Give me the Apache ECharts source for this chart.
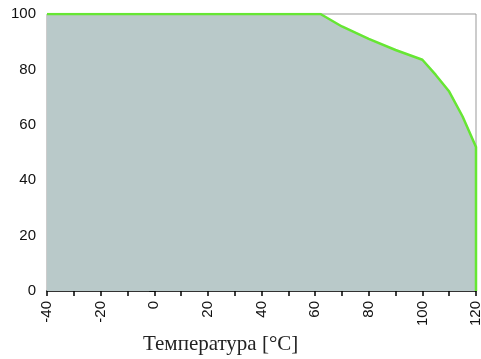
<!DOCTYPE html>
<html>
<head>
<meta charset="utf-8">
<script src="https://cdn.jsdelivr.net/npm/echarts@6/dist/echarts.min.js"></script>
<style>
html, body { margin: 0; padding: 0; background: #fff; }
#chart { width: 481px; height: 359px; }
</style>
</head>
<body>
<div id="chart"></div>
<script>
// температура, °C
var temps = [-40, 60, 62, 70, 80, 90, 100, 105, 110, 115, 120, 120];
// допустимая нагрузка, %
var load = [100, 100, 100, 95.5, 91, 87, 83.5, 78, 72, 63, 52, 0];
var yTicks = [0, 20, 40, 60, 80, 100];

var points = [];
for (var i = 0; i < temps.length; i++) {
    points.push([temps[i], load[i]]);
}

var myChart = echarts.init(document.getElementById('chart'));
var option = {
    animation: false,
    title: {
        text: 'Температура [°C]',
        left: 143,
        top: 334,
        padding: 0,
        textStyle: {
            fontFamily: 'Liberation Serif',
            fontWeight: 'normal',
            fontSize: 21,
            color: '#222'
        }
    },
    grid: {
        left: 47, right: 5, top: 14, bottom: 68,
        outerBoundsMode: 'none',
        containLabel: false,
        show: true,
        borderColor: '#999',
        borderWidth: 1
    },
    xAxis: {
        type: 'value',
        min: -40, max: 120, interval: 20,
        axisLine: { lineStyle: { color: '#000', width: 1.5 } },
        axisTick: { length: 5, lineStyle: { color: '#000', width: 1.5 } },
        minorTick: { show: true, splitNumber: 2, length: 5, lineStyle: { color: '#000', width: 1.5 } },
        splitLine: { show: false },
        axisLabel: {
            rotate: 90,
            margin: 10,
            color: '#111',
            fontFamily: 'Liberation Sans',
            fontSize: 15
        }
    },
    yAxis: {
        type: 'value',
        min: yTicks[0], max: yTicks[yTicks.length - 1], interval: 20,
        axisLine: { show: true, lineStyle: { color: '#000', width: 1.5 } },
        axisTick: { show: true, length: 5, lineStyle: { color: '#000', width: 1.5 } },
        splitLine: { show: false },
        axisLabel: {
            margin: 11,
            color: '#111',
            fontFamily: 'Liberation Sans',
            fontSize: 15
        }
    },
    series: [{
        type: 'line',
        data: points,
        symbol: 'none',
        lineStyle: { color: '#66e633', width: 2.5 },
        areaStyle: { color: '#b9c9c9', opacity: 1 },
        z: 1
    }]
};
myChart.setOption(option);
</script>
</body>
</html>
